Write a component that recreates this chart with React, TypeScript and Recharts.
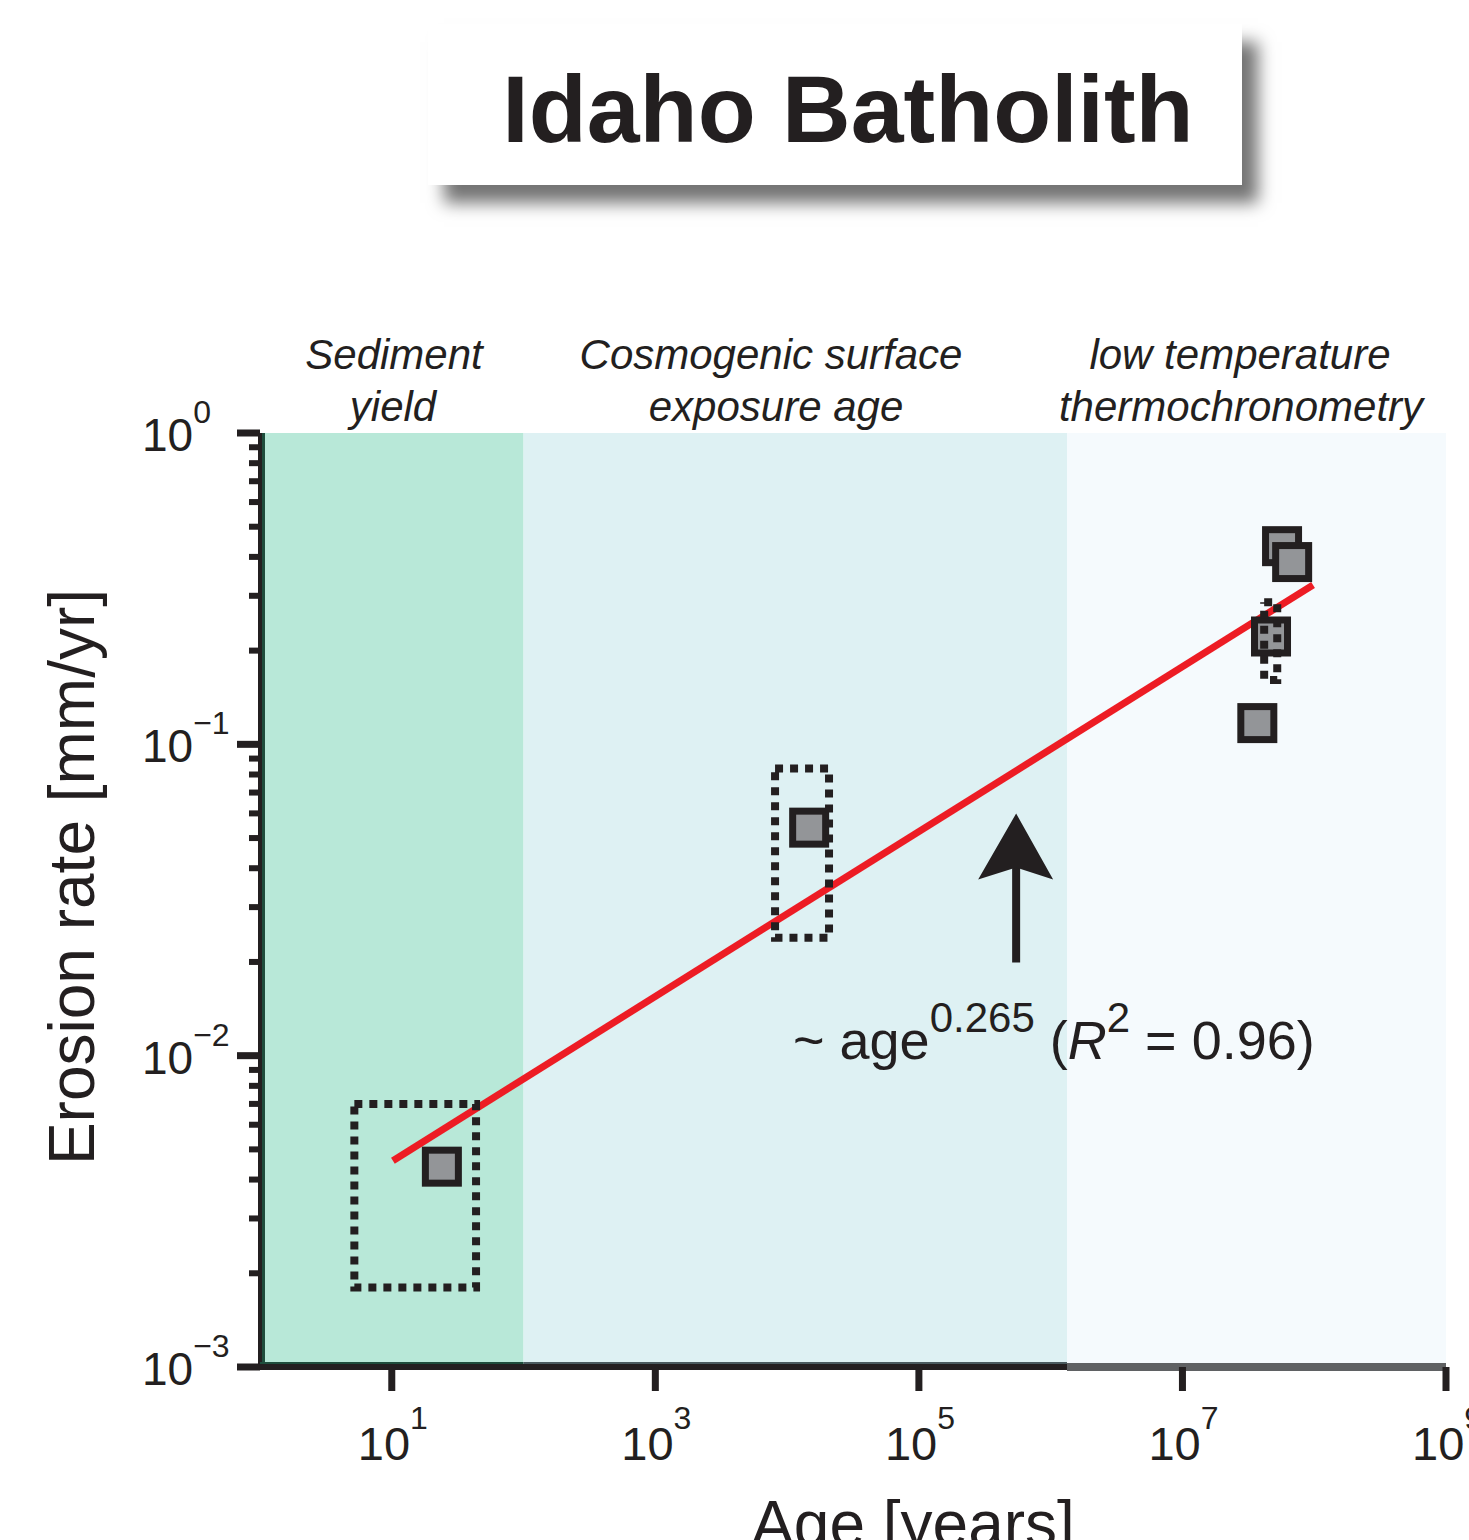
import React from 'react';
import {
  ScatterChart,
  Scatter,
  XAxis,
  YAxis,
  ReferenceArea,
  ReferenceLine,
} from 'recharts';

const FONT = '"Liberation Sans", Arial, Helvetica, sans-serif';
const INK = '#231f20';

// axis ticks
const xTicks = [10, 1e3, 1e5, 1e7, 1e9];
const xTickExponents = ['1', '3', '5', '7', '9'];
const yMajorTicks = [1, 0.1, 0.01, 0.001];
const yTickExponents = ['0', '−1', '−2', '−3'];
const yMinorTicks = [
  0.9, 0.8, 0.7, 0.6, 0.5, 0.4, 0.3, 0.2,
  0.09, 0.08, 0.07, 0.06, 0.05, 0.04, 0.03, 0.02,
  0.009, 0.008, 0.007, 0.006, 0.005, 0.004, 0.003, 0.002,
];

// method bands (age ranges, years)
const bandStarts = [1, 100, 1.33e6];
const bandEnds = [100, 1.33e6, 1e9];
const bandColors = ['#b8e8d8', '#def1f3', '#f5fafd'];
const bandEdgeColors = ['#1e4d3c', '#4a5b5f', '#5f6163'];

// erosion rate estimates [age in years, rate in mm/yr]
const rateAges = [5.7e7, 6.8e7, 4.7e7, 3.7e7, 24, 14700];
const rateValues = [0.433, 0.385, 0.222, 0.117, 0.0044, 0.054];

// uncertainty boxes [age min, age max, rate min, rate max]
const sedimentBox = [5.2, 43.6, 0.0018, 0.007];
const cosmoBox = [8100, 20800, 0.0239, 0.0837];
const thermoBox = [4.17e7, 5.24e7, 0.161, 0.286];

// power-law fit end points
const fitAges = [10.2, 9.8e7];
const fitRates = [0.0046, 0.325];

// arrow (shaft bottom, shaft top, tip)
const arrowAge = 5.47e5;
const arrowRates = [0.0199, 0.045, 0.06];

const points = rateAges.map((x, i) => ({ x, y: rateValues[i] }));
const fitData = fitAges.map((x, i) => ({ x, y: fitRates[i] }));
const boxPath = (b: number[]) => [
  { x: b[0], y: b[3] },
  { x: b[1], y: b[3] },
  { x: b[1], y: b[2] },
  { x: b[0], y: b[2] },
  { x: b[0], y: b[3] },
];
const shaftData = [
  { x: arrowAge, y: arrowRates[0] },
  { x: arrowAge, y: arrowRates[1] },
];
const tipData = [{ x: arrowAge, y: arrowRates[2] }];

const Hidden = () => <g />;

const SquareMark = (props: any) => {
  const { cx, cy } = props;
  return (
    <rect
      x={cx - 16.5}
      y={cy - 16.5}
      width={33}
      height={33}
      fill="#939598"
      stroke={INK}
      strokeWidth={7}
    />
  );
};

const ArrowHead = (props: any) => {
  const { cx, cy } = props;
  return (
    <path
      d={`M${cx},${cy} L${cx + 37},${cy + 66} L${cx},${cy + 54} L${cx - 38},${cy + 66} Z`}
      fill={INK}
    />
  );
};

const YTick = (props: any) => {
  const { x, y, payload } = props;
  const i = yMajorTicks.indexOf(payload.value);
  if (i < 0) {
    return <rect x={x - 11} y={y - 3} width={11} height={6} fill={INK} />;
  }
  return (
    <g>
      <rect x={x - 23} y={y - 3.5} width={23} height={7} fill={INK} />
      <text x={x - 118} y={y + 18} fontSize={46} fill={INK} fontFamily={FONT}>
        10
        <tspan dy={-28} fontSize={32}>
          {yTickExponents[i]}
        </tspan>
      </text>
    </g>
  );
};

const XTick = (props: any) => {
  const { x, y, payload } = props;
  const i = xTicks.indexOf(payload.value);
  return (
    <g>
      <rect x={x - 3.5} y={y} width={7} height={24} fill={INK} />
      <text x={x - 34} y={y + 93} fontSize={47} fill={INK} fontFamily={FONT}>
        10
        <tspan dy={-31} fontSize={32}>
          {xTickExponents[i]}
        </tspan>
      </text>
    </g>
  );
};

export default function App() {
  const dotted = {
    stroke: INK,
    strokeWidth: 8,
    strokeDasharray: '8 7',
    strokeLinecap: 'butt' as const,
  };

  return (
    <div
      style={{
        position: 'absolute',
        left: 0,
        top: 0,
        width: 1469,
        height: 1540,
        background: '#fff',
        overflow: 'hidden',
      }}
    >
      <ScatterChart
        width={1469}
        height={1540}
        margin={{ top: 433, right: 23, bottom: 0, left: 0 }}
      >
        <XAxis
          dataKey="x"
          type="number"
          scale="log"
          domain={[1, 1e9]}
          allowDataOverflow
          ticks={xTicks}
          interval={0}
          tick={<XTick />}
          tickSize={0}
          tickMargin={0}
          tickLine={false}
          axisLine={false}
          height={173}
        />
        <YAxis
          dataKey="y"
          type="number"
          scale="log"
          domain={[0.001, 1]}
          allowDataOverflow
          ticks={[...yMajorTicks, ...yMinorTicks]}
          interval={0}
          tick={<YTick />}
          tickSize={0}
          tickMargin={0}
          tickLine={false}
          axisLine={false}
          width={260}
        />

        {bandStarts.map((x1, i) => (
          <ReferenceArea
            key={`band-${i}`}
            x1={x1}
            x2={bandEnds[i]}
            y1={0.001}
            y2={1}
            fill={bandColors[i]}
            fillOpacity={1}
            stroke="none"
          />
        ))}

        {/* axis lines and band edges */}
        <ReferenceLine
          segment={[{ x: 1.063, y: 0.001 }, { x: 1.063, y: 1 }]}
          stroke={bandEdgeColors[0]}
          strokeWidth={3}
          ifOverflow="visible"
        />
        <ReferenceLine
          segment={[{ x: 1, y: 0.001 }, { x: 1, y: 1 }]}
          stroke={INK}
          strokeWidth={4}
          ifOverflow="visible"
        />
        {bandStarts.slice(0, 2).map((x1, i) => (
          <ReferenceLine
            key={`edge-${i}`}
            segment={[{ x: x1, y: 0.001026 }, { x: bandEnds[i], y: 0.001026 }]}
            stroke={bandEdgeColors[i]}
            strokeWidth={3}
            ifOverflow="visible"
          />
        ))}
        <ReferenceLine
          segment={[{ x: 1, y: 0.001 }, { x: 1e9, y: 0.001 }]}
          stroke={INK}
          strokeWidth={6}
          ifOverflow="visible"
        />
        <ReferenceLine
          segment={[{ x: bandStarts[2], y: 0.001 }, { x: bandEnds[2], y: 0.001 }]}
          stroke={bandEdgeColors[2]}
          strokeWidth={8}
          ifOverflow="visible"
        />

        <Scatter
          data={fitData}
          line={{ stroke: '#ed1c24', strokeWidth: 7 }}
          shape={Hidden}
          isAnimationActive={false}
        />
        <Scatter
          data={points}
          shape={SquareMark}
          isAnimationActive={false}
        />
        <Scatter data={boxPath(sedimentBox)} line={dotted} shape={Hidden} isAnimationActive={false} />
        <Scatter data={boxPath(cosmoBox)} line={dotted} shape={Hidden} isAnimationActive={false} />
        <Scatter data={boxPath(thermoBox)} line={dotted} shape={Hidden} isAnimationActive={false} />
        <Scatter
          data={shaftData}
          line={{ stroke: INK, strokeWidth: 8 }}
          shape={Hidden}
          isAnimationActive={false}
        />
        <Scatter data={tipData} shape={ArrowHead} isAnimationActive={false} />
      </ScatterChart>

      {/* title box */}
      <div
        style={{
          position: 'absolute',
          left: 428,
          top: 24,
          width: 814,
          height: 161,
          background: '#fff',
          boxShadow: '16px 18px 16px rgba(0,0,0,0.55)',
        }}
      />

      <svg
        width={1469}
        height={1540}
        style={{ position: 'absolute', left: 0, top: 0, pointerEvents: 'none' }}
      >
        <text
          x={848}
          y={142}
          textAnchor="middle"
          fontSize={95}
          fontWeight="bold"
          fill={INK}
          fontFamily={FONT}
        >
          Idaho Batholith
        </text>

        <g fontSize={42} fontStyle="italic" fill={INK} fontFamily={FONT} textAnchor="middle">
          <text x={394} y={369}>Sediment</text>
          <text x={393} y={421}>yield</text>
          <text x={771} y={369}>Cosmogenic surface</text>
          <text x={776} y={421}>exposure age</text>
          <text x={1240} y={369}>low temperature</text>
          <text x={1241} y={421}>thermochronometry</text>
        </g>

        <text x={793} y={1059} fontSize={54} fill={INK} fontFamily={FONT}>
          ~ age
          <tspan y={1032} fontSize={42}>0.265</tspan>
          <tspan y={1059}> (</tspan>
          <tspan fontStyle="italic">R</tspan>
          <tspan y={1032} fontSize={42}>2</tspan>
          <tspan y={1059}> = 0.96)</tspan>
        </text>

        <text
          x={94}
          y={877}
          transform="rotate(-90, 94, 877)"
          textAnchor="middle"
          fontSize={64}
          fill={INK}
          fontFamily={FONT}
        >
          Erosion rate [mm/yr]
        </text>
        <text x={913} y={1546} textAnchor="middle" fontSize={64} fill={INK} fontFamily={FONT}>
          Age [years]
        </text>
      </svg>
    </div>
  );
}
